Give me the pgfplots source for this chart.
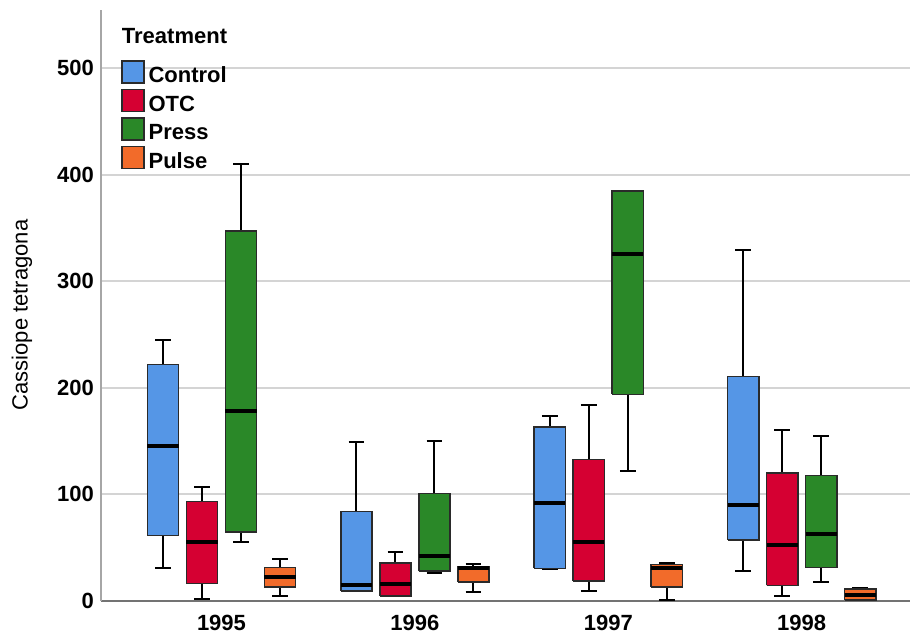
\documentclass[border=0pt]{standalone}
\usepackage{pgfplots}
\pgfplotsset{compat=1.18}
\usepackage{fontspec}
\setmainfont{Liberation Sans}
\definecolor{cctrl}{HTML}{5596E6}
\definecolor{cotc}{HTML}{D50032}
\definecolor{cpress}{HTML}{2A8828}
\definecolor{cpulse}{HTML}{F26B2A}
\definecolor{gridc}{HTML}{D4D4D4}
\definecolor{boxc}{HTML}{2A2A2A}
% #1 draw position, #2 colour, #3 lower whisker, #4 lower quartile,
% #5 median, #6 upper quartile, #7 upper whisker
\newcommand{\bx}[7]{%
  \pgfmathsetmacro\xl{#1-0.081}\pgfmathsetmacro\xr{#1+0.081}%
  \pgfmathsetmacro\cl{#1-0.0405}\pgfmathsetmacro\cright{#1+0.0405}%
  \addplot[forget plot, black, line width=1pt] coordinates {(#1,#6) (#1,#7)};
  \addplot[forget plot, black, line width=1pt] coordinates {(#1,#4) (#1,#3)};
  \addplot[forget plot, black, line width=1pt] coordinates {(\cl,#7) (\cright,#7)};
  \addplot[forget plot, black, line width=1pt] coordinates {(\cl,#3) (\cright,#3)};
  \addplot[forget plot, fill=#2, draw=boxc, line width=0.8pt, line join=miter]
     coordinates {(\xl,#4) (\xr,#4) (\xr,#6) (\xl,#6) (\xl,#4)};
  \addplot[forget plot, black, line width=2pt] coordinates {(\xl,#5) (\xr,#5)};
}
\begin{document}
\begin{tikzpicture}
\begin{axis}[
  at={(0,0)}, anchor=south west,
  scale only axis, width=404.5pt, height=295.5pt,
  xmin=-0.623, xmax=3.56, ymin=0, ymax=554.5,
  axis x line*=bottom, axis y line*=left,
  x axis line style={draw=black!55, line width=1pt, -},
  y axis line style={draw=black!35, line width=1pt, -},
  major tick length=0pt,
  ytick={0,100,200,300,400,500},
  ymajorgrids=true,
  grid style={draw=gridc, line width=1pt},
  xtick={0,1,2,3}, xticklabels={1995,1996,1997,1998},
  /pgf/number format/assume math mode=true,
  ticklabel style={font=\fontsize{11}{13}\selectfont\bfseries},
  xticklabel style={yshift=-3.5pt},
  ylabel={Cassiope tetragona},
  ylabel style={at={(axis description cs:-0.0977,0.484)}, anchor=center, font=\fontsize{11}{13}\selectfont},
  legend image code/.code={\draw[#1] (0pt,-4pt) rectangle (11pt,7pt);},
  legend cell align=left,
  legend style={at={(axis description cs:0.0247,0.9154)}, anchor=north west,
    draw=none, fill=none, inner sep=0pt, outer sep=0pt,
    font=\fontsize{11}{13}\selectfont\bfseries,
    row sep=2.5pt,
    nodes={inner ysep=0pt, text height=8pt, text depth=0pt}},
]
% 1995
\bx{-0.3025}{cctrl}{31.3}{61.3}{145.4}{222}{244.8}
\bx{-0.1008}{cotc}{1.9}{16.6}{55}{93.2}{106.6}
\bx{0.1008}{cpress}{55.6}{64.7}{178.5}{347}{410}
\bx{0.3025}{cpulse}{5}{13.4}{22.8}{31.6}{39.7}
% 1996
\bx{0.6975}{cctrl}{9.4}{9.4}{15}{83.8}{149}
\bx{0.8992}{cotc}{4.5}{4.7}{16}{35.4}{45.7}
\bx{1.1008}{cpress}{26}{28.1}{42.2}{101}{149.8}
\bx{1.3025}{cpulse}{8.2}{18.1}{30.5}{32.2}{34.7}
% 1997
\bx{1.6975}{cctrl}{29.7}{30.6}{92.2}{163.5}{173.8}
\bx{1.8992}{cotc}{9.7}{19}{55.1}{132.9}{183.9}
\bx{2.1008}{cpress}{122}{193.9}{325.2}{384.4}{384.4}
\bx{2.3025}{cpulse}{0.9}{13.4}{30.7}{34.4}{35.6}
% 1998
\bx{2.6975}{cctrl}{28.1}{57.5}{90.4}{210.8}{329}
\bx{2.8992}{cotc}{4.7}{14.7}{52.5}{120}{160.7}
\bx{3.1008}{cpress}{18.1}{31.3}{62.9}{117.9}{154.8}
\bx{3.3025}{cpulse}{0.9}{0.9}{5.6}{11}{11.9}
\addlegendimage{fill=cctrl, draw=boxc, line width=0.8pt}
\addlegendentry{Control}
\addlegendimage{fill=cotc, draw=boxc, line width=0.8pt}
\addlegendentry{OTC}
\addlegendimage{fill=cpress, draw=boxc, line width=0.8pt}
\addlegendentry{Press}
\addlegendimage{fill=cpulse, draw=boxc, line width=0.8pt}
\addlegendentry{Pulse}
\node[anchor=base west, inner sep=0pt, font=\fontsize{11}{13}\selectfont\bfseries]
  at (axis description cs:0.0254,0.944) {Treatment};
\end{axis}
\pgfresetboundingbox
\path (-50.5pt,-19pt) rectangle (405pt,300.5pt);
\end{tikzpicture}
\end{document}
